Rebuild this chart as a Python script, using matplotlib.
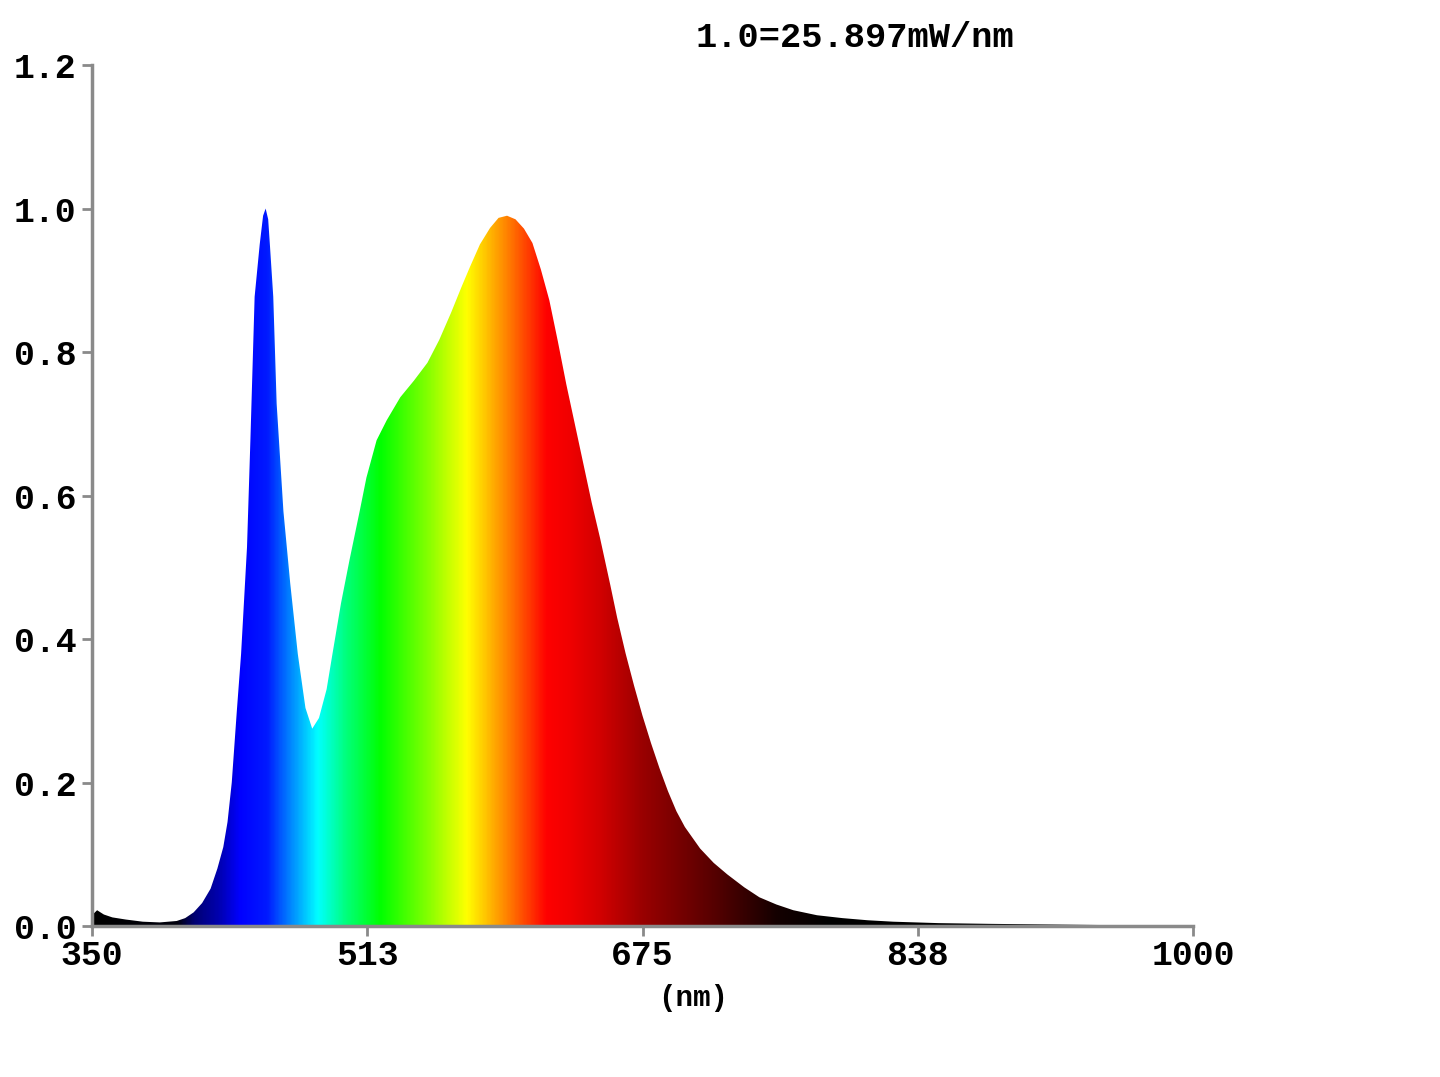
import numpy as np
import matplotlib.pyplot as plt
from matplotlib.colors import LinearSegmentedColormap

# spectrum (nm, relative power)
wavelength = [350, 353, 357, 362, 370, 380, 390, 400, 405, 410, 415, 420, 424,
              427.5, 430, 432.5, 435.5, 438, 441.5, 443.5, 446, 449, 451, 452.5,
              454, 455, 457, 459, 463, 467, 471.5, 476, 480, 484, 488.5, 492,
              497, 502, 508, 512, 518, 524, 532, 540, 548, 555, 562, 568, 573,
              579, 585, 590, 595, 600, 605, 610, 615, 620, 625, 630, 635, 640,
              645, 650, 656, 660, 665, 670, 675, 680, 685, 690, 695, 700, 709,
              717, 725, 735, 744, 754, 764, 778, 793, 808, 823, 850, 880, 920,
              960, 1000]
power = [0.015, 0.022, 0.016, 0.012, 0.009, 0.006, 0.005, 0.007, 0.011, 0.019,
         0.032, 0.052, 0.08, 0.11, 0.145, 0.2, 0.3, 0.379, 0.528, 0.677, 0.877,
         0.95, 0.99, 1.0, 0.985, 0.95, 0.877, 0.728, 0.578, 0.478, 0.379,
         0.304, 0.275, 0.29, 0.33, 0.38, 0.45, 0.51, 0.578, 0.625, 0.677,
         0.705, 0.737, 0.76, 0.785, 0.817, 0.855, 0.89, 0.918, 0.95, 0.973,
         0.987, 0.99, 0.985, 0.972, 0.952, 0.915, 0.872, 0.815, 0.755, 0.70,
         0.645, 0.59, 0.54, 0.475, 0.43, 0.38, 0.335, 0.293, 0.255, 0.22,
         0.188, 0.16, 0.138, 0.108, 0.088, 0.072, 0.054, 0.04, 0.03, 0.022,
         0.015, 0.011, 0.008, 0.006, 0.004, 0.003, 0.002, 0.001, 0.0]

# colour under each wavelength
stop_nm = [350, 400, 410, 425, 437, 453, 466, 483, 499, 520, 547, 571, 595,
           618, 632, 650, 675, 715, 754, 785, 1000]
stop_rgb = [(0, 0, 0), (0, 0, 0.05), (0, 0, 0.45), (0, 0, 0.7), (0, 0, 1),
            (0, 0.1, 1), (0, 0.5, 1), (0, 1, 1), (0, 1, 0.5), (0, 1, 0),
            (0.5, 1, 0), (1, 1, 0), (1, 0.5, 0), (1, 0, 0), (0.94, 0, 0),
            (0.82, 0, 0), (0.6, 0, 0), (0.35, 0, 0), (0.08, 0, 0), (0, 0, 0),
            (0, 0, 0)]

xticks = [350, 512.5, 675, 837.5, 1000]
xticklabels = ['350', '513', '675', '838', '1000']
yticks = [0.0, 0.2, 0.4, 0.6, 0.8, 1.0, 1.2]

font = 'Liberation Mono'
gray = '#8a8a8a'

fig = plt.figure(figsize=(14.4, 10.77), dpi=100)
ax = fig.add_axes([0.0639, 0.1402, 0.7646, 0.7994])

pos = [(n - 350) / 650 for n in stop_nm]
cmap = LinearSegmentedColormap.from_list('spec', list(zip(pos, stop_rgb)), N=1024)

grad = np.linspace(0, 1, 1300).reshape(1, -1)
img = ax.imshow(grad, cmap=cmap, extent=[350, 1000, 0, 1.2], aspect='auto',
                origin='lower', zorder=1, interpolation='bilinear')
poly = ax.fill_between(wavelength, power, 0, color='none', lw=0)
clip = poly.get_paths()[0]
img.set_clip_path(clip, transform=ax.transData)

ax.set_xlim(350, 1000)
ax.set_ylim(0, 1.2)

for s in ['top', 'right']:
    ax.spines[s].set_visible(False)
for s in ['left', 'bottom']:
    ax.spines[s].set_color(gray)
    ax.spines[s].set_linewidth(2.5)
    ax.spines[s].set_zorder(3)

ax.set_xticks(xticks)
ax.set_xticklabels(xticklabels)
ax.set_yticks(yticks)
ax.set_yticklabels(['%.1f' % v for v in yticks])
ax.tick_params(axis='both', color=gray, width=2, length=7, labelsize=25)
ax.tick_params(axis='x', pad=2)
ax.tick_params(axis='y', pad=4)
for lab in ax.get_xticklabels() + ax.get_yticklabels():
    lab.set_fontfamily(font)
    lab.set_fontweight('bold')

fig.text(0.481, 0.073, '(nm)', family=font, fontweight='bold', fontsize=21,
         ha='center', va='center')
fig.text(0.594, 0.9656, '1.0=25.897mW/nm', family=font, fontweight='bold',
         fontsize=25.5, ha='center', va='center')

fig.savefig('out.png', dpi=100)
